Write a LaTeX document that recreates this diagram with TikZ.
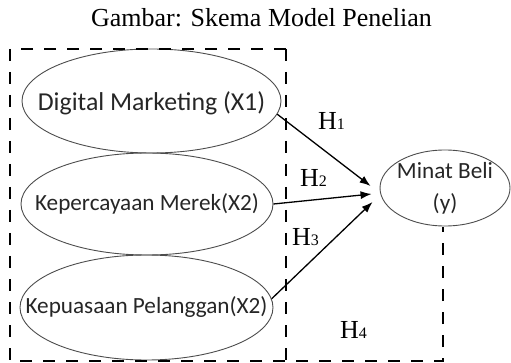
\documentclass[tikz,border=0pt]{standalone}
\usepackage{fontspec}
\setmainfont{Liberation Serif}
\newfontfamily\calibrifont{Carlito}
\usetikzlibrary{shapes.geometric,arrows.meta}

\begin{document}
\begin{tikzpicture}[x=1pt,y=-1pt]
		\useasboundingbox (0,0) rectangle (511,363);
		\tikzset{var/.style = {shape=ellipse,draw=black!70,line width=0.9pt,inner sep=0pt}}
		\tikzset{txt/.style = {inner sep=0pt,text=black!85,align=center,font=\calibrifont\fontsize{23.2}{32}\selectfont}}
		\tikzset{edge/.style = {-{Latex[length=11pt,width=8pt]},line width=1.3pt}}
		\tikzset{frame/.style = {line width=2.6pt,dash pattern=on 12pt off 11pt}}
		\tikzset{hyp/.style = {anchor=base west,inner sep=0pt,font=\fontsize{26}{26}\selectfont}}
		\node[anchor=base,inner sep=0pt,font=\fontsize{26}{30}\selectfont] (title) at (261.5,27) {Gambar: Skema Model Penelian};
		\node[var,minimum width=259pt,minimum height=104pt,label={[txt,yshift=-2pt,font=\calibrifont\fontsize{25.8}{30}\selectfont]center:Digital Marketing (X1)}] (X1) at (151.5,101) {};
		\node[var,minimum width=252pt,minimum height=102pt,label={[txt]center:Kepercayaan Merek(X2)}] (X2) at (147,204) {};
		\node[var,minimum width=253pt,minimum height=105pt,label={[txt]center:Kepuasaan Pelanggan(X2)}] (X3) at (146.5,307.5) {};
		\node[var,minimum width=130pt,minimum height=76pt,label={[txt]center:Minat Beli\\(y)}] (Y) at (445,188) {};
		%frame
		\draw[frame] (286,49) -- (10,49) -- (10,361) -- (443,361) -- (443,227);
		\draw[frame] (286,49) -- (286,361);
		%edges
		\draw[edge] (X1.-6) -- ([shift={(-9pt,2pt)}]Y.west);
		\draw[edge] (X2.east) -- ([shift={(-8pt,-6pt)}]Y.west);
		\draw[edge] (X3.4) -- ([shift={(-7pt,-14pt)}]Y.west);
		%labels
		\node[hyp] (H1) at (318,130) {H{\fontsize{16}{16}\selectfont 1}};
		\node[hyp] (H2) at (300,187) {H{\fontsize{16}{16}\selectfont 2}};
		\node[hyp] (H3) at (292,246) {H{\fontsize{16}{16}\selectfont 3}};
		\node[hyp] (H4) at (340,338) {H{\fontsize{16}{16}\selectfont 4}};
\end{tikzpicture}
\end{document}
